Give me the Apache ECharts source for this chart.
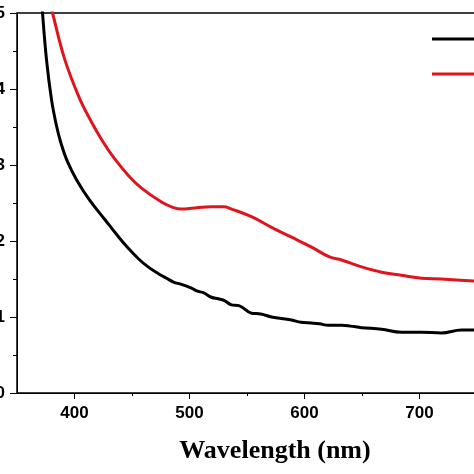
<!DOCTYPE html>
<html>
<head>
<meta charset="utf-8">
<script src="https://cdn.jsdelivr.net/npm/echarts@6/dist/echarts.min.js"></script>
<style>html,body{margin:0;padding:0;background:#fff;}#c{width:474px;height:474px;}</style>
</head>
<body>
<div id="c"></div>
<script>
var xLabels = [400, 500, 600, 700];
var xMinorTicks = [450, 550, 650];
var blackSeries = [
  [370.5, 5.4], [372.2, 5.0], [375.7, 4.38], [380.0, 3.86], [384.0, 3.54], [388.0, 3.30],
  [394.0, 3.04], [402.0, 2.80], [413.0, 2.54], [426.0, 2.29], [438.0, 2.06], [447, 1.90],
  [456, 1.76], [464, 1.66], [473.0, 1.57], [480, 1.51], [486.1, 1.46],
  [493, 1.43], [501.7, 1.38], [507, 1.34], [512, 1.32], [519.1, 1.26], [525, 1.24], [530, 1.22], [536.5, 1.16],
  [543, 1.15], [553.9, 1.05], [562, 1.04], [571.3, 1.00], [580, 0.98], [588.7, 0.96], [597, 0.93],
  [606.1, 0.92], [613, 0.91], [620.9, 0.89], [632.2, 0.89], [640, 0.88], [649.6, 0.86],
  [667.0, 0.84], [684.3, 0.80], [701.7, 0.80], [719.1, 0.79], [736.5, 0.83], [750, 0.83]
];
var redSeries = [
  [379.0, 5.12], [380.9, 5.0], [391.3, 4.40], [404.3, 3.88], [415.0, 3.56], [425.0, 3.30],
  [434.0, 3.10], [447.0, 2.86], [458.0, 2.70], [476.0, 2.51], [486, 2.44],
  [493.0, 2.42], [501.7, 2.43], [519.1, 2.45], [530, 2.45],
  [536.5, 2.42], [553.9, 2.32], [571.3, 2.18], [588.7, 2.05], [606.1, 1.92],
  [621.7, 1.79], [632.2, 1.75], [649.6, 1.66], [667.0, 1.59], [684.3, 1.55],
  [701.7, 1.51], [719.1, 1.50], [750, 1.47]
];
var seriesNames = ['Blank', 'Sample'];
var xTitle = 'Wavelength (nm)';

var chart = echarts.init(document.getElementById('c'), null, {renderer: 'canvas'});
var axisLine = {show: true, lineStyle: {color: '#000', width: 1}};
chart.setOption({
  animation: false,
  backgroundColor: '#fff',
  grid: {left: 17, top: 13, width: 460, height: 380, containLabel: false, outerBoundsMode: 'none',
         show: true, borderColor: '#000', borderWidth: 1.5, backgroundColor: 'transparent'},
  legend: {
    orient: 'vertical', left: 427, top: 27, itemWidth: 62, itemHeight: 3, itemGap: 21,
    icon: 'rect',
    textStyle: {fontSize: 14, color: '#000', fontWeight: 'bold'},
    data: seriesNames
  },
  xAxis: [{
    type: 'value', min: 350, max: 750, position: 'bottom',
    axisLine: axisLine,
    axisTick: {show: true, inside: false, length: 6, customValues: xLabels, lineStyle: {color: '#000', width: 1}},
    axisLabel: {show: true, customValues: xLabels, margin: 12, fontSize: 17, fontWeight: 'bold', color: '#000', fontFamily: 'Liberation Sans, Arial, sans-serif'},
    splitLine: {show: false}
  }, {
    type: 'value', min: 350, max: 750, position: 'bottom',
    axisLine: {show: false},
    axisTick: {show: true, inside: false, length: 3, customValues: xMinorTicks, lineStyle: {color: '#000', width: 1}},
    axisLabel: {show: false},
    splitLine: {show: false}
  }],
  yAxis: {
    type: 'value', min: 0, max: 5, interval: 1,
    axisLine: axisLine,
    axisTick: {show: true, inside: false, length: 7, lineStyle: {color: '#000', width: 1}},
    minorTick: {show: true, splitNumber: 2, length: 4, lineStyle: {color: '#000', width: 1}},
    axisLabel: {show: true, margin: 12, fontSize: 17, fontWeight: 'bold', color: '#000', fontFamily: 'Liberation Sans, Arial, sans-serif'},
    splitLine: {show: false}
  },
  graphic: [{
    type: 'text', x: 275, y: 451,
    style: {text: xTitle, fontSize: 26, fontWeight: 'bold', fontFamily: 'Liberation Serif, Times New Roman, serif', fill: '#000', align: 'center', verticalAlign: 'middle'}
  }],
  series: [{
    name: seriesNames[0], type: 'line', data: blackSeries, showSymbol: false, symbol: 'none',
    smooth: 0.4, clip: true, lineStyle: {color: '#000', width: 3}, itemStyle: {color: '#000'}
  }, {
    name: seriesNames[1], type: 'line', data: redSeries, showSymbol: false, symbol: 'none',
    smooth: 0.4, clip: true, lineStyle: {color: '#e0141c', width: 3}, itemStyle: {color: '#e0141c'}
  }]
});
</script>
</body>
</html>
